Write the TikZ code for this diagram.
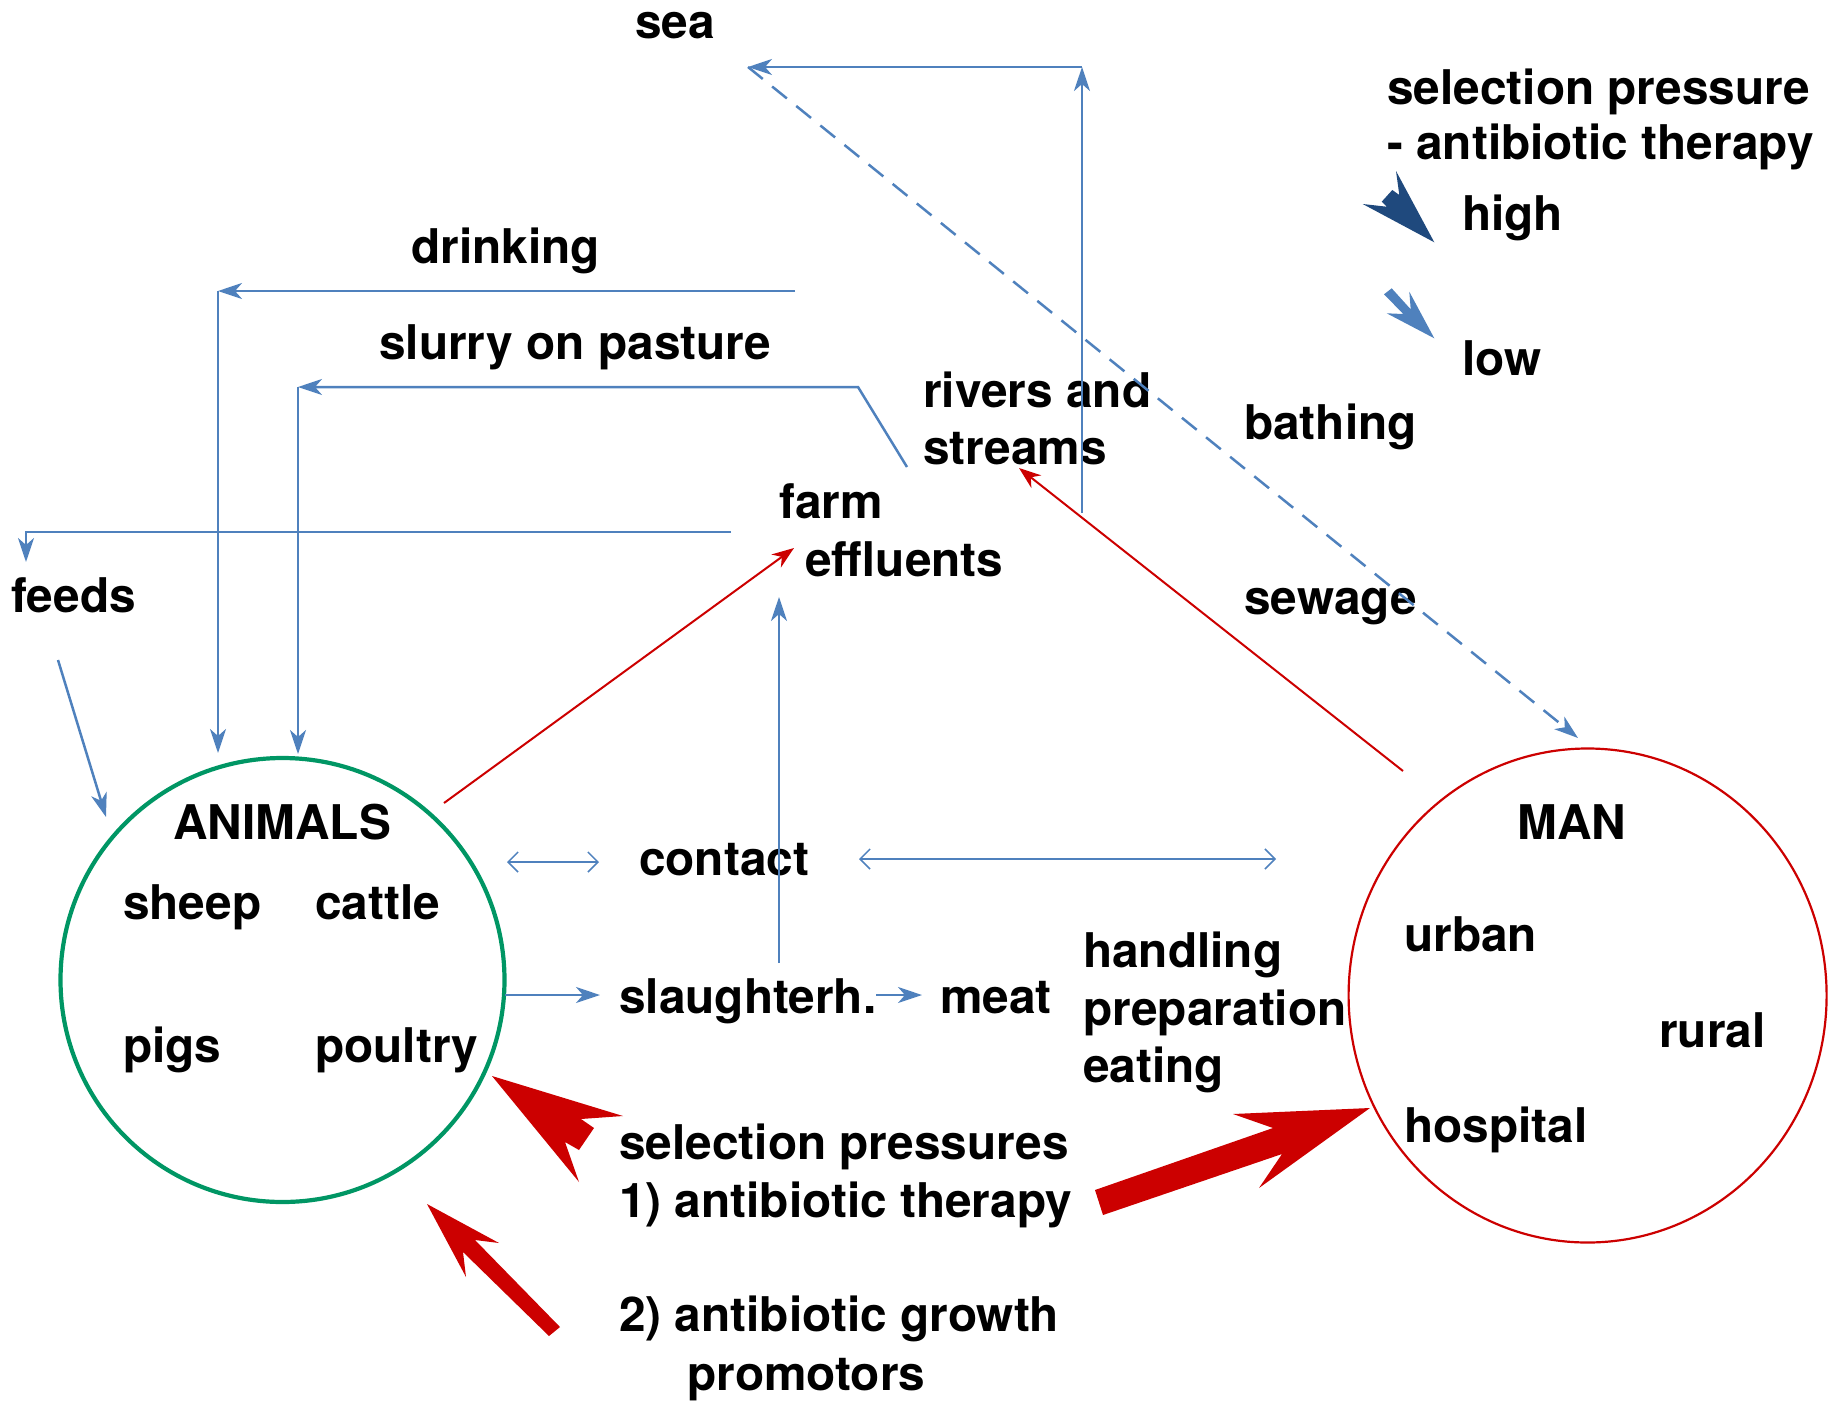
\documentclass[tikz,border=0pt]{standalone}
\usepackage{fontspec}
\setmainfont{TeX Gyre Heros}
\usetikzlibrary{arrows.meta,shapes.geometric}
\definecolor{blueA}{RGB}{79,129,189}
\definecolor{blueD}{RGB}{31,73,125}
\definecolor{redA}{RGB}{204,0,0}
\definecolor{greenA}{RGB}{0,150,100}
\begin{document}
\begin{tikzpicture}[x=1pt,y=-1pt,
  lbl/.style={anchor=base west, inner sep=0pt, font=\fontsize{47.8}{56}\selectfont\bfseries},
  bl/.style={draw=blueA, line width=2.5pt},
  rl/.style={draw=redA, line width=2pt},
  bst/.tip={Stealth[length=24pt,width=16pt,inset=7pt]},
  obarb/.tip={Straight Barb[length=10pt,width=20pt,line width=1.5pt]}
]
\useasboundingbox (0,0) rectangle (1842,1406);

% circles
\node[draw=greenA, line width=4.2pt, circle, minimum size=444pt, inner sep=0pt] (animals) at (282.5,980) {};
\node[draw=redA, line width=2.2pt, ellipse, minimum width=478pt, minimum height=494pt, inner sep=0pt] (man) at (1587.6,995.5) {};

% texts
\node[lbl] (sea) at (635,38) {sea};
\node[lbl] (selp1) at (1387,104) {selection pressure};
\node[lbl] (selp2) at (1387,159) {- antibiotic therapy};
\node[lbl] (high) at (1462,230) {high};
\node[lbl] (low) at (1462,375) {low};
\node[lbl] (drinking) at (411,263) {drinking};
\node[lbl] (slurry) at (379,359) {slurry on pasture};
\node[lbl] (rivers1) at (923,407) {rivers and};
\node[lbl] (rivers2) at (923,464) {streams};
\node[lbl] (bathing) at (1244,439) {bathing};
\node[lbl] (farm1) at (779,518) {farm};
\node[lbl] (farm2) at (805,576) {effluents};
\node[lbl] (sewage) at (1244,614) {sewage};
\node[lbl] (feeds) at (11,612) {feeds};
\node[lbl] (animalsT) at (173,839) {ANIMALS};
\node[lbl] (sheep) at (123,919) {sheep};
\node[lbl] (cattle) at (315,919) {cattle};
\node[lbl] (pigs) at (123,1062) {pigs};
\node[lbl] (poultry) at (315,1062) {poultry};
\node[lbl] (contact) at (639,875) {contact};
\node[lbl] (slaughter) at (619,1013) {slaughterh.};
\node[lbl] (meat) at (940,1013) {meat};
\node[lbl] (handling) at (1083,967) {handling};
\node[lbl] (prep) at (1083,1025) {preparation};
\node[lbl] (eating) at (1083,1082) {eating};
\node[lbl] (manT) at (1517,839) {MAN};
\node[lbl] (urban) at (1404,951) {urban};
\node[lbl] (rural) at (1659,1047) {rural};
\node[lbl] (hospital) at (1404,1142) {hospital};
\node[lbl] (sp) at (619,1159) {selection pressures};
\node[lbl] (at1) at (619,1217) {1) antibiotic therapy};
\node[lbl] (ag) at (619,1331) {2) antibiotic growth};
\node[lbl] (prom) at (687,1390) {promotors};

% coordinates
\coordinate (seaL) at (748,67);
\coordinate (seaR) at (1082,67);
\coordinate (rivTop) at (1082,513);
\coordinate (manTop) at (1578,738);
\coordinate (dR) at (795,291);
\coordinate (dC) at (218,291);
\coordinate (dB) at (218,753);
\coordinate (s0) at (907,467);
\coordinate (s1) at (858,387);
\coordinate (sC) at (298,387);
\coordinate (sB) at (298,754);
\coordinate (f0) at (731,532);
\coordinate (fC) at (26,532);
\coordinate (fB) at (26,562);
\coordinate (fa0) at (58,660);
\coordinate (fa1) at (106,817);
\coordinate (ae0) at (444,803);
\coordinate (ae1) at (794,548);
\coordinate (se0) at (779,963);
\coordinate (se1) at (779,597);
\coordinate (cl0) at (507,862);
\coordinate (cl1) at (599,862);
\coordinate (cr0) at (859,859);
\coordinate (cr1) at (1276,859);
\coordinate (as0) at (505,995);
\coordinate (as1) at (600,995);
\coordinate (sm0) at (876,995);
\coordinate (sm1) at (922,995);
\coordinate (mr0) at (1403,771);
\coordinate (mr1) at (1019,468);

% blue connectors
\draw[bl,-{bst}] (rivTop) -- (seaR);
\draw[bl,-{bst}] (seaR) -- (seaL);
\draw[bl,dash pattern=on 19pt off 12pt,-{bst}] (seaL) -- (manTop);
\draw[bl,-{bst}] (dR) -- (dC);
\draw[bl,-{bst}] (dC) -- (dB);
\draw[bl,-{bst}] (s0) -- (s1) -- (sC);
\draw[bl,-{bst}] (sC) -- (sB);
\draw[bl,-{bst}] (f0) -- (fC) -- (fB);
\draw[bl,-{bst}] (fa0) -- (fa1);
\draw[bl,-{bst}] (se0) -- (se1);
\draw[draw=blueA,line width=1.5pt,{obarb}-{obarb}] (cl0) -- (cl1);
\draw[draw=blueA,line width=1.5pt,{obarb}-{obarb}] (cr0) -- (cr1);
\draw[bl,-{bst}] (as0) -- (as1);
\draw[bl,-{bst}] (sm0) -- (sm1);

% red connectors
\draw[rl,-{Stealth[length=22pt,width=16pt,inset=7pt]}] (ae0) -- (ae1);
\draw[rl,-{Stealth[length=22pt,width=16pt,inset=7pt]}] (mr0) -- (mr1);

% big red arrows
\fill[redA] (492,1076) -- (623,1116) -- (581,1119) -- (594,1128) -- (579,1150) -- (565,1142) -- (579,1182) -- cycle;
\fill[redA] (427,1204) -- (499,1243) -- (475,1240) -- (560,1327) -- (549,1336) -- (463,1252) -- (466,1277) -- cycle;
\fill[redA] (1370,1108) -- (1233,1114) -- (1273,1128) -- (1095,1190) -- (1103,1215) -- (1282,1154) -- (1259,1188) -- cycle;

% legend arrows
\fill[blueD] (1434.3,242.3) -- (1396,171) -- (1399.3,195) -- (1392.3,190) -- (1381.7,201.7) -- (1386.7,206.7) -- (1362.7,204) -- cycle;
\fill[blueA] (1434.3,338.3) -- (1409.3,291.7) -- (1410.7,309.3) -- (1391.7,288.3) -- (1384,294.3) -- (1403.3,314) -- (1386.7,313.3) -- cycle;
\end{tikzpicture}
\end{document}
